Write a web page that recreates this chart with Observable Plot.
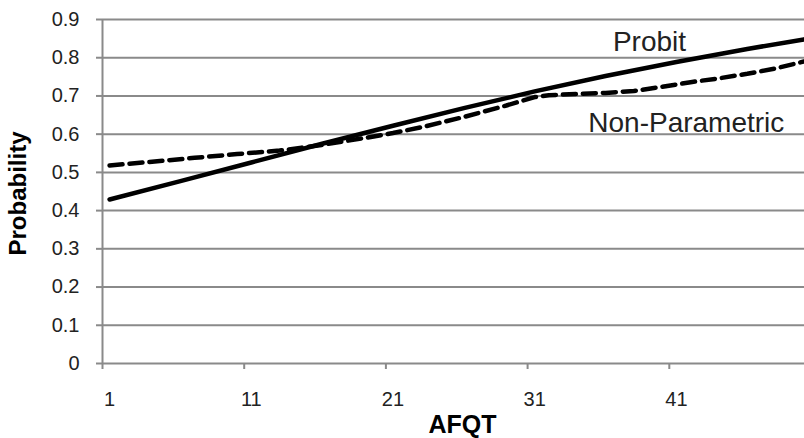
<!DOCTYPE html>
<html>
<head>
<meta charset="utf-8">
<script src="https://cdn.jsdelivr.net/npm/d3@7"></script>
<script src="https://cdn.jsdelivr.net/npm/@observablehq/plot@0.6"></script>
<style>
  html, body { margin: 0; padding: 0; background: #fff; overflow: hidden; }
</style>
</head>
<body>
<div id="chart"></div>
<script>
// Probit curve
const probitX = [1, 6, 11, 16, 21, 26, 31, 36, 41, 46, 50];
const probitY = [0.429, 0.477, 0.526, 0.575, 0.622, 0.668, 0.712, 0.752, 0.789, 0.823, 0.848];

// Non-parametric curve
const npX = [1, 4, 7, 10, 13, 16, 19, 21, 23, 26, 29, 31, 32, 34, 36, 38, 40, 42, 44, 46, 48, 50];
const npY = [0.518, 0.528, 0.538, 0.548, 0.557, 0.572, 0.590, 0.603, 0.618, 0.645, 0.675, 0.697, 0.702, 0.705, 0.708, 0.713, 0.724, 0.736, 0.746, 0.758, 0.772, 0.790];

// Axis ticks
const yTicks = [0, 0.1, 0.2, 0.3, 0.4, 0.5, 0.6, 0.7, 0.8, 0.9];
const xTickLabels = [1, 11, 21, 31, 41];
const xTickMarks = [0.5, 10.5, 20.5, 30.5, 40.5];

// Series labels and their anchor points (data units)
const seriesNames = ["Probit", "Non-Parametric"];
const seriesLabelX = [39.1, 41.7];
const seriesLabelY = [0.840, 0.628];

const probit = probitX.map((x, i) => ({x, y: probitY[i]}));
const nonPar = npX.map((x, i) => ({x, y: npY[i]}));
const labels = seriesNames.map((name, i) => ({name, x: seriesLabelX[i], y: seriesLabelY[i]}));

const gridColor = "#8a8a8a";
const textColor = "#222";

const chart = Plot.plot({
  width: 804,
  height: 438,
  marginLeft: 102,
  marginRight: 0,
  marginTop: 19,
  marginBottom: 75,
  x: {domain: [0.5, 50.5], range: [102, 810.5]},
  y: {domain: [0, 0.9]},
  style: {fontFamily: "'Liberation Sans', Arial, sans-serif", fontSize: "20px", background: "#fff", color: textColor},
  marks: [
    Plot.ruleY(yTicks, {stroke: gridColor, strokeWidth: 2}),
    Plot.ruleX([0.5], {stroke: gridColor, strokeWidth: 2}),
    Plot.axisY(yTicks, {
      tickSize: 6, tickPadding: 17, fontSize: 20,
      stroke: gridColor, strokeWidth: 2, fill: textColor,
      tickFormat: d => d === 0 ? "0" : d.toFixed(1),
      label: null
    }),
    Plot.axisX(xTickMarks, {
      tickSize: 6, stroke: gridColor, strokeWidth: 2,
      tickFormat: () => "", label: null
    }),
    Plot.axisX(xTickLabels, {
      tickSize: 0, tickPadding: 28, fontSize: 20, fill: textColor,
      tickFormat: d => String(d), label: null
    }),
    Plot.line(nonPar, {x: "x", y: "y", stroke: "#000", strokeWidth: 4.5, strokeDasharray: "13,7"}),
    Plot.line(probit, {x: "x", y: "y", stroke: "#000", strokeWidth: 4.5}),
    Plot.text(labels, {x: "x", y: "y", text: "name", fontSize: 28, fill: textColor, textAnchor: "middle", lineAnchor: "middle"}),
    Plot.text(["AFQT"], {frameAnchor: "bottom", lineAnchor: "middle", dy: 61, dx: 9, fontSize: 25, fontWeight: "bold", fill: "#000"}),
    Plot.text(["Probability"], {frameAnchor: "left", rotate: -90, textAnchor: "middle", lineAnchor: "middle", dx: -84.5, dy: 2, fontSize: 24, fontWeight: "bold", fill: "#000"})
  ]
});
document.getElementById("chart").appendChild(chart);
</script>
</body>
</html>
